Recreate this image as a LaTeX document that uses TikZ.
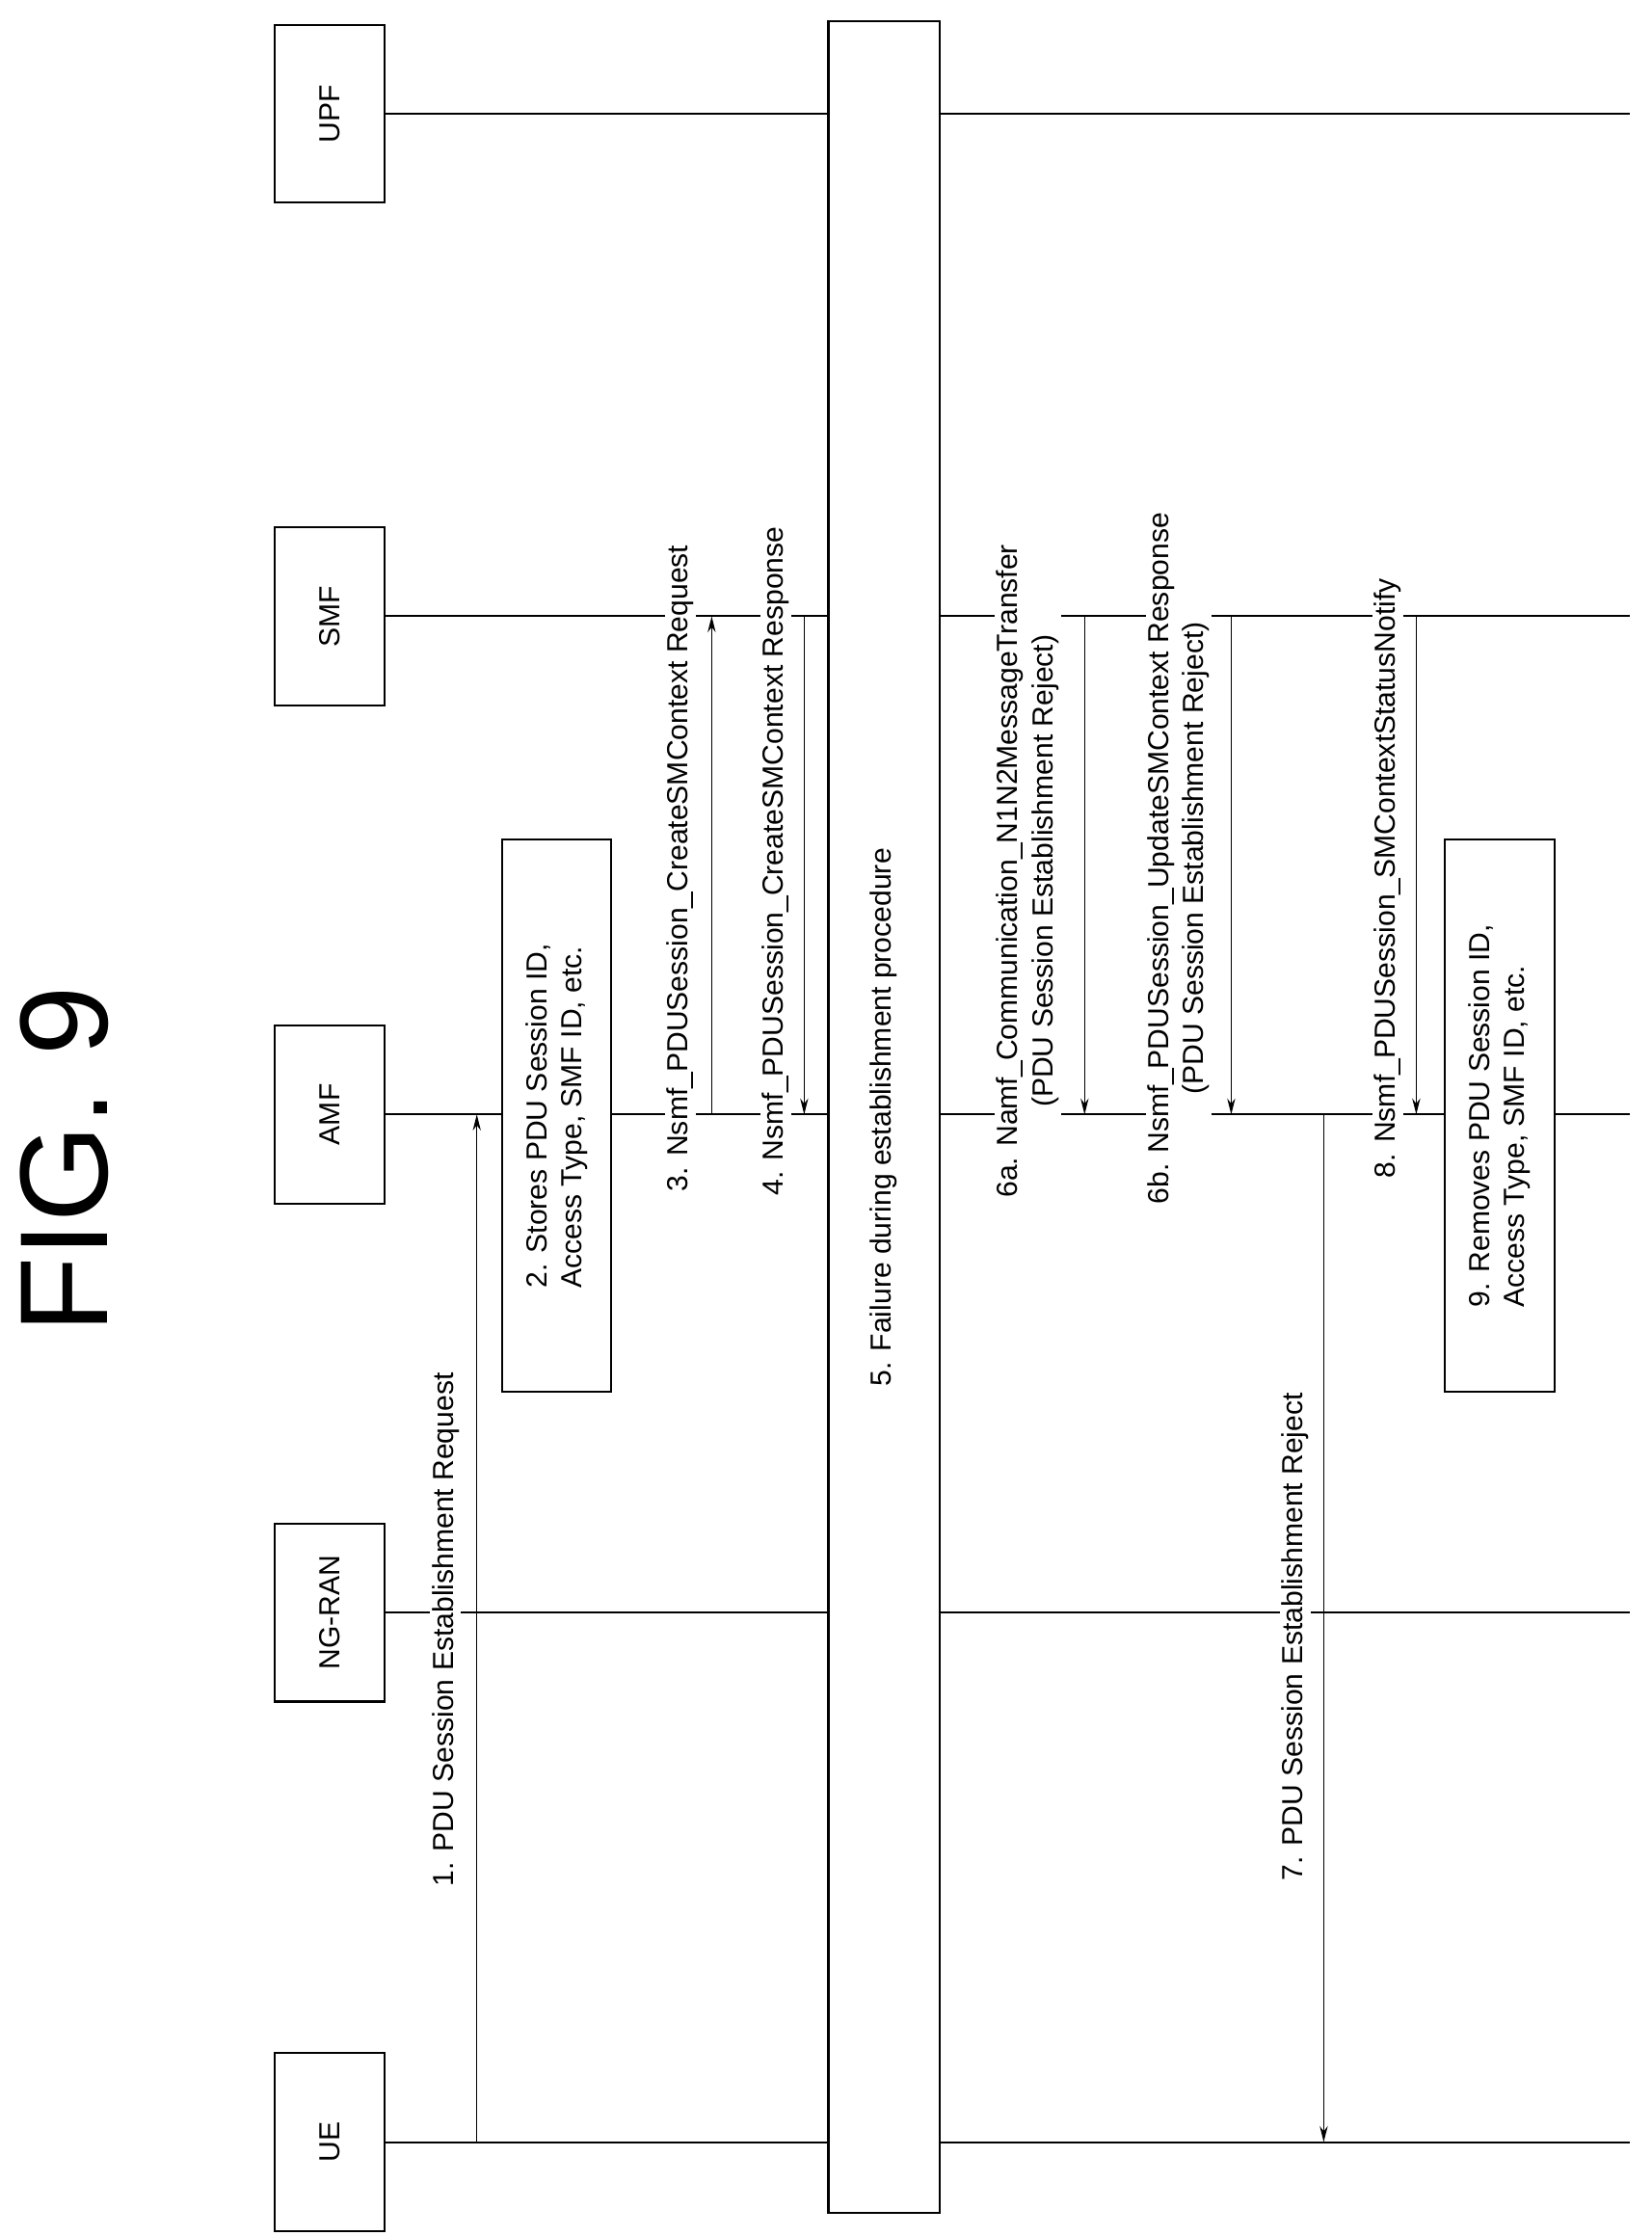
\documentclass[tikz,border=0pt]{standalone}
\usepackage{fontspec}
\setmainfont{Liberation Sans}
\usetikzlibrary{arrows.meta}
\begin{document}
\begin{tikzpicture}[x=0.05cm,y=-0.05cm,
  ent/.style={draw,line width=2pt,fill=white,minimum width=6.25cm,minimum height=3.85cm,rotate=90,font=\fontsize{29}{34}\selectfont},
  life/.style={line width=2pt},
  msg/.style={line width=1.3pt,-{Stealth[length=16pt,width=8pt]}},
  lbl/.style={rotate=90,fill=white,inner sep=2pt,font=\fontsize{29}{35}\selectfont,align=center},
  act/.style={draw,line width=2pt,fill=white,rotate=90,minimum width=19.4cm,minimum height=3.85cm,font=\fontsize{29}{35}\selectfont,align=left}]
\useasboundingbox (0,0) rectangle (1160,1571);
\node[rotate=90,font=\fontsize{125}{130}\selectfont] (title) at (45,815) {FIG. 9};
% lifelines
\foreach \n/\y in {UE/1505,RAN/1133,AMF/783,SMF/433,UPF/80}{
  \coordinate (\n s) at (270,\y); \coordinate (\n e) at (1145,\y);
  \draw[life] (\n s) -- (\n e);}
\node[ent] (UE) at (231.5,1505) {UE};
\node[ent] (RAN) at (231.5,1133) {NG-RAN};
\node[ent] (AMF) at (231.5,783) {AMF};
\node[ent] (SMF) at (231.5,433) {SMF};
\node[ent] (UPF) at (231.5,80) {UPF};
% step 5
\node[draw,line width=2pt,fill=white,rotate=90,minimum width=77cm,minimum height=3.9cm,font=\fontsize{29}{35}\selectfont] (s5) at (621,785) {5. Failure during establishment procedure};
% step 2 and 9
\node[act] (s2) at (391,784) {2. Stores PDU Session ID,\\Access Type, SMF ID, etc.};
\node[act] (s9) at (1053.5,784) {9. Removes PDU Session ID,\\Access Type, SMF ID, etc.};
% messages
\foreach \n/\x/\a/\b in {m1/335/UE/AMF,m3/500/AMF/SMF,m4/565/SMF/AMF,m6a/762/SMF/AMF,m6b/865/SMF/AMF,m7/930/AMF/UE,m8/995/SMF/AMF}{
  \coordinate (\n a) at (\x,0 |- \a s); \coordinate (\n b) at (\x,0 |- \b s);}
\node[lbl] (l1) at (313,1145) {1. PDU Session Establishment Request};
\node[lbl] (l3) at (478,610) {3. Nsmf\_PDUSession\_CreateSMContext Request};
\node[lbl] (l4) at (545,605) {4. Nsmf\_PDUSession\_CreateSMContext Response};
\node[lbl] (l6a) at (722,612) {6a. Namf\_Communication\_N1N2MessageTransfer\\(PDU Session Establishment Reject)};
\node[lbl] (l6b) at (828,603) {6b. Nsmf\_PDUSession\_UpdateSMContext Response\\(PDU Session Establishment Reject)};
\node[lbl] (l7) at (910,1150) {7. PDU Session Establishment Reject};
\node[lbl] (l8) at (975,617) {8. Nsmf\_PDUSession\_SMContextStatusNotify};
\foreach \n in {m1,m3,m4,m6a,m6b,m7,m8}{\draw[msg] (\n a) -- (\n b);}
\end{tikzpicture}
\end{document}
